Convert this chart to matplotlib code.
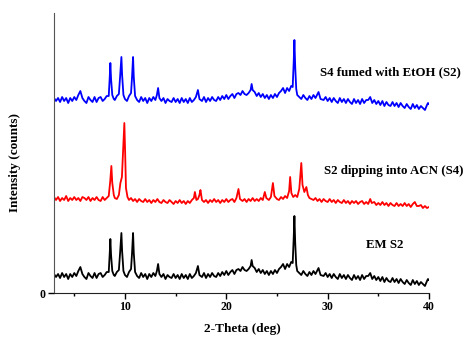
import matplotlib
matplotlib.use("Agg")
from matplotlib import pyplot as plt
from matplotlib.ticker import MultipleLocator

plt.rcParams["font.family"] = ["Liberation Serif", "DejaVu Serif"]
plt.rcParams["font.weight"] = "bold"

# EM S2 pattern (the blue S4-fumed trace is the same pattern)
theta_s2 = [3.0, 3.2, 3.4, 3.6, 3.8, 4.0, 4.2, 4.4, 4.6, 4.8,
            5.0, 5.2, 5.4, 5.6, 5.8, 6.0, 6.2, 6.4, 6.6, 6.8,
            7.0, 7.2, 7.4, 7.6, 7.8, 8.0, 8.2, 8.4, 8.5, 8.56,
            8.63, 8.75, 8.9, 9.0, 9.2, 9.4, 9.52, 9.65, 9.72, 9.85,
            10.0, 10.2, 10.4, 10.6, 10.7, 10.8, 10.87, 11.0, 11.2, 11.4,
            11.6, 11.8, 12.0, 12.2, 12.4, 12.6, 12.8, 13.0, 13.15, 13.27,
            13.4, 13.6, 13.8, 14.0, 14.2, 14.4, 14.6, 14.8, 15.0, 15.2,
            15.4, 15.6, 15.8, 16.0, 16.2, 16.4, 16.6, 16.8, 17.0, 17.2,
            17.35, 17.6, 17.8, 18.0, 18.2, 18.4, 18.6, 18.8, 19.0, 19.2,
            19.4, 19.6, 19.8, 20.0, 20.2, 20.4, 20.6, 20.8, 21.0, 21.2,
            21.4, 21.6, 21.8, 22.0, 22.2, 22.4, 22.5, 22.6, 22.8, 23.0,
            23.2, 23.4, 23.6, 23.8, 24.0, 24.2, 24.4, 24.6, 24.8, 25.0,
            25.2, 25.4, 25.6, 25.8, 26.0, 26.2, 26.4, 26.55, 26.65, 26.72,
            26.8, 26.9, 27.0, 27.2, 27.4, 27.6, 27.8, 28.0, 28.2, 28.4,
            28.6, 28.8, 29.0, 29.1, 29.3, 29.6, 29.8, 30.0, 30.2, 30.4,
            30.6, 30.8, 31.0, 31.2, 31.4, 31.6, 31.8, 32.0, 32.2, 32.4,
            32.6, 32.8, 33.0, 33.2, 33.4, 33.6, 33.8, 34.0, 34.2, 34.4,
            34.6, 34.8, 35.0, 35.2, 35.4, 35.6, 35.8, 36.0, 36.2, 36.4,
            36.6, 36.8, 37.0, 37.2, 37.4, 37.6, 37.8, 38.0, 38.2, 38.4,
            38.6, 38.8, 39.0, 39.2, 39.4, 39.6, 39.8, 39.9, 40.0]
counts_s2 = [19, 16, 19, 15, 20, 16, 19, 14, 19, 16,
             20, 17, 22, 26, 19, 16, 14, 20, 17, 15,
             20, 15, 19, 20, 16, 18, 21, 21, 40, 54,
             38, 22, 18, 17, 21, 23, 40, 60, 42, 22,
             18, 16, 21, 24, 40, 60, 40, 21, 17, 15,
             20, 16, 19, 14, 19, 16, 20, 17, 22, 29,
             19, 16, 19, 14, 18, 16, 15, 19, 15, 18,
             14, 19, 15, 18, 14, 19, 15, 17, 20, 27,
             18, 16, 20, 15, 19, 16, 20, 17, 16, 20,
             17, 21, 18, 22, 18, 21, 23, 19, 23, 24,
             22, 26, 23, 22, 24, 27, 33, 27, 25, 21,
             24, 20, 23, 19, 22, 18, 22, 19, 23, 20,
             24, 26, 29, 24, 29, 26, 31, 30, 55, 77,
             50, 28, 22, 20, 18, 22, 19, 17, 21, 18,
             22, 19, 23, 25, 18, 17, 20, 16, 19, 15,
             19, 16, 14, 19, 15, 18, 14, 18, 15, 13,
             18, 14, 17, 13, 18, 14, 17, 17, 20, 14,
             17, 13, 16, 12, 16, 11, 15, 12, 11, 15,
             11, 14, 10, 14, 11, 9, 13, 10, 8, 13,
             9, 12, 8, 11, 9, 7, 12, 14, 13]

# S2 dipping into ACN (S4)
theta_s4 = [3.0, 3.2, 3.4, 3.6, 3.8, 4.0, 4.2, 4.4, 4.6, 4.8,
            5.0, 5.2, 5.4, 5.6, 5.8, 6.0, 6.2, 6.4, 6.6, 6.8,
            7.0, 7.2, 7.4, 7.6, 7.8, 8.0, 8.2, 8.4, 8.55, 8.66,
            8.75, 8.9, 9.0, 9.2, 9.4, 9.55, 9.7, 9.85, 9.94, 10.02,
            10.1, 10.25, 10.4, 10.6, 10.8, 11.0, 11.2, 11.4, 11.6, 11.8,
            12.0, 12.2, 12.4, 12.6, 12.8, 13.0, 13.2, 13.4, 13.6, 13.8,
            14.0, 14.2, 14.4, 14.6, 14.8, 15.0, 15.2, 15.4, 15.6, 15.8,
            16.0, 16.2, 16.4, 16.6, 16.8, 16.9, 17.05, 17.2, 17.35, 17.45,
            17.6, 17.8, 18.0, 18.2, 18.4, 18.6, 18.8, 19.0, 19.2, 19.4,
            19.6, 19.8, 20.0, 20.2, 20.4, 20.6, 20.8, 21.0, 21.2, 21.35,
            21.6, 21.8, 22.0, 22.2, 22.4, 22.6, 22.8, 23.0, 23.2, 23.4,
            23.6, 23.8, 23.95, 24.2, 24.4, 24.6, 24.75, 25.0, 25.2, 25.4,
            25.6, 25.8, 26.0, 26.2, 26.3, 26.42, 26.6, 26.8, 27.0, 27.2,
            27.4, 27.52, 27.7, 27.9, 28.05, 28.2, 28.4, 28.6, 28.8, 29.0,
            29.2, 29.4, 29.6, 29.8, 30.0, 30.2, 30.4, 30.6, 30.8, 31.0,
            31.2, 31.4, 31.6, 31.8, 32.0, 32.2, 32.4, 32.6, 32.8, 33.0,
            33.2, 33.4, 33.6, 33.8, 34.0, 34.2, 34.35, 34.6, 34.8, 35.0,
            35.2, 35.4, 35.6, 35.8, 36.0, 36.2, 36.4, 36.6, 36.8, 37.0,
            37.2, 37.4, 37.6, 37.8, 38.0, 38.2, 38.4, 38.6, 38.8, 39.0,
            39.2, 39.4, 39.6, 39.8, 40.0]
counts_s4 = [16, 13, 16, 12, 15, 13, 17, 12, 15, 13,
             16, 13, 15, 12, 16, 15, 13, 16, 12, 15,
             13, 16, 13, 12, 16, 13, 15, 17, 32, 47,
             30, 18, 15, 14, 18, 30, 36, 70, 90, 60,
             25, 16, 13, 15, 12, 14, 11, 14, 12, 11,
             14, 11, 13, 10, 13, 11, 14, 11, 10, 13,
             11, 10, 13, 11, 9, 12, 10, 13, 10, 12,
             9, 12, 10, 13, 15, 21, 13, 14, 18, 23,
             13, 11, 13, 10, 13, 11, 14, 11, 13, 10,
             13, 11, 14, 11, 13, 14, 11, 15, 24, 14,
             12, 14, 11, 14, 12, 15, 12, 14, 12, 15,
             13, 21, 15, 13, 16, 30, 17, 14, 13, 16,
             14, 17, 15, 22, 36, 20, 16, 18, 16, 24,
             50, 28, 21, 26, 18, 15, 14, 13, 15, 12,
             14, 11, 14, 12, 11, 14, 11, 13, 10, 13,
             11, 10, 13, 10, 12, 9, 12, 10, 12, 9,
             11, 12, 9, 11, 9, 14, 10, 11, 8, 10,
             8, 11, 8, 10, 7, 10, 8, 7, 10, 7,
             9, 7, 10, 7, 9, 6, 9, 11, 7, 7,
             8, 5, 7, 5, 6]

labels = ["EM S2", "S2 dipping into ACN (S4)", "S4 fumed with EtOH (S2)"]
colors = ["black", "#ff0000", "#0000ff"]
offsets = [0, 80, 176]

fig = plt.figure(figsize=(4.66, 3.38), dpi=100)
ax = fig.add_axes([0.1159, 0.1331, 0.8047, 0.8284])

series = [(theta_s2, counts_s2), (theta_s4, counts_s4), (theta_s2, counts_s2)]
for (tt, cc), off, col in zip(series, offsets, colors):
    ax.plot(tt, [c + off for c in cc], color=col, linewidth=1.3)

# labels next to each trace
ax.text(33.8, 48, labels[0], fontsize=9.3, fontweight="bold", va="center", clip_on=False)
ax.text(29.6, 122, labels[1], fontsize=9.3, fontweight="bold", va="center", clip_on=False)
ax.text(29.2, 221, labels[2], fontsize=9.3, fontweight="bold", va="center", clip_on=False)

ax.set_xlim(3, 40)
ax.set_ylim(0, 280)
ax.xaxis.set_major_locator(MultipleLocator(10))
ax.xaxis.set_minor_locator(MultipleLocator(5))
ax.set_yticks([0])
ax.tick_params(axis="both", which="major", direction="out", length=4, width=1,
               labelsize=8.5, pad=2)
ax.tick_params(axis="x", which="minor", direction="out", length=2.5, width=1)
for lab in ax.get_xticklabels() + ax.get_yticklabels():
    lab.set_fontweight("bold")

ax.spines["top"].set_visible(False)
ax.spines["right"].set_visible(False)
ax.spines["left"].set_color("#555555")
ax.spines["bottom"].set_color("#222222")

fig.text(242 / 466, 1 - 329 / 338, "2-Theta (deg)", ha="center", va="center",
         fontsize=9.5, fontweight="bold")
fig.text(15 / 466, 1 - 162 / 338, "Intensity (counts)", ha="center", va="center",
         rotation=90, fontsize=9.5, fontweight="bold")

fig.savefig("out.png", dpi=100)
